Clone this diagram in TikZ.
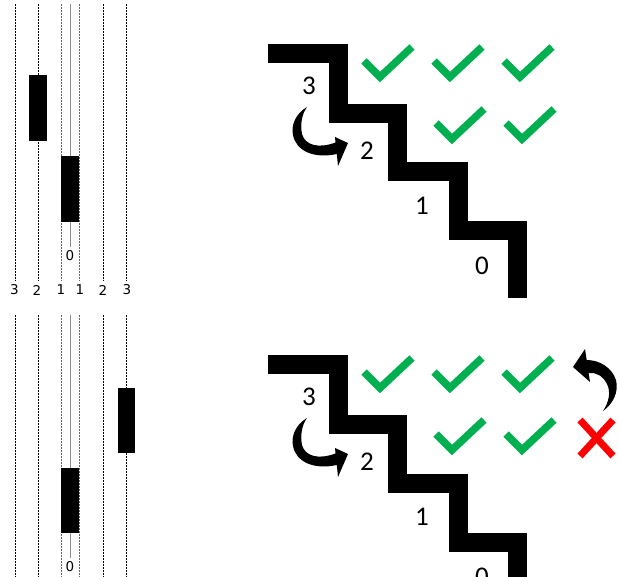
\documentclass[tikz,border=0pt]{standalone}
\usepackage{fontspec}
\newfontfamily\stairfont{Carlito}
\newfontfamily\axisfont{DejaVu Sans}
\definecolor{okgreen}{RGB}{0,176,80}
\definecolor{nored}{RGB}{255,0,0}

\tikzset{
  guide/.style={line width=1pt, dash pattern=on 2pt off 1pt, black},
  innerguide/.style={guide, black!60},
  axisline/.style={line width=0.7pt, black!45},
  bar/.style={fill=black},
  stair/.style={line width=19pt, line join=miter, line cap=butt},
  tick/.style={okgreen, line width=7.5pt, line join=miter, line cap=butt},
  cross/.style={nored, line width=7pt, line cap=butt},
  steplabel/.style={font=\stairfont\fontsize{27}{27}\selectfont, inner sep=0pt},
  axislabel/.style={font=\axisfont\fontsize{13.5}{13.5}\selectfont, inner sep=0pt},
  tickmark/.pic={\draw[tick] (-16,-16) -- (0,0) -- (32,-30);}
}

% staircase, step numbers, turn arrow and the ticks common to both rows
\newcommand{\stairscene}[1]{%
  \draw[stair] (268,54) -- (338,54) -- (338,114) -- (397,114) -- (397,172)
    -- (458,172) -- (458,231) -- (517,231) -- (517,298);
  \node[steplabel] (#1s3) at (309,86) {3};
  \node[steplabel] (#1s2) at (367,151) {2};
  \node[steplabel] (#1s1) at (422,206) {1};
  \node[steplabel] (#1s0) at (482,266) {0};
  % curved arrow from step 3 down to step 2
  \fill (307,107) .. controls (295,114) and (291,126) .. (293,135)
    .. controls (296,151) and (314,159) .. (336.8,154)
    -- (338,166) -- (348,143) -- (335,137) -- (335.5,142.5)
    .. controls (318,149) and (305,145) .. (302,134)
    .. controls (300,124) and (302,114) .. (307,107) -- cycle;
  \pic at (380,77) {tickmark};
  \pic at (450,77) {tickmark};
  \pic at (520,77) {tickmark};
  \pic at (452,139) {tickmark};
  \pic at (522,139) {tickmark};
}

\begin{document}
\begin{tikzpicture}[x=1pt,y=-1pt]
\useasboundingbox (0,0) rectangle (619,577);
\clip (0,0) rectangle (619,577);

% ---------- upper row: position chart ----------
\foreach \x in {15,38,103,126} \draw[guide] (\x,4) -- (\x,281);
\foreach \x in {61,79} \draw[innerguide] (\x,4) -- (\x,281);
\draw[axisline] (70,4) -- (70,247);
\fill[bar] (29,75) rectangle (47,141);
\fill[bar] (61,156) rectangle (79,222);
\node[axislabel] (azero) at (70,255.5) {0};
\node[axislabel] (al3) at (14.5,290) {3};
\node[axislabel] (al2) at (37,290) {2};
\node[axislabel] (al1) at (61,290) {1};
\node[axislabel] (ar1) at (80,290) {1};
\node[axislabel] (ar2) at (103,290) {2};
\node[axislabel] (ar3) at (127,290) {3};

% ---------- upper row: staircase ----------
\stairscene{a}

% ---------- lower row: position chart ----------
\foreach \x in {15,38,103,126} \draw[guide] (\x,315) -- (\x,577);
\foreach \x in {61,79} \draw[innerguide] (\x,315) -- (\x,577);
\draw[axisline] (70,315) -- (70,558);
\fill[bar] (61,468) rectangle (79,533);
\fill[bar] (118,388) rectangle (135,453);
\node[axislabel] (bzero) at (70,566.5) {0};

% ---------- lower row: staircase ----------
\begin{scope}[shift={(0,311)}]
  \stairscene{b}
\end{scope}
% turn-back arrow and the failed step
\fill (573,367) -- (585,349) -- (586.7,360)
  .. controls (600,360) and (612,368) .. (616,380)
  .. controls (619,392) and (613,404) .. (603,411)
  .. controls (609,402) and (611,392) .. (607,384)
  .. controls (603,376) and (596,372) .. (588.6,373)
  -- (590,382) -- cycle;
\draw[cross] (580,420) -- (613,456);
\draw[cross] (613,420) -- (580,456);
\end{tikzpicture}
\end{document}
